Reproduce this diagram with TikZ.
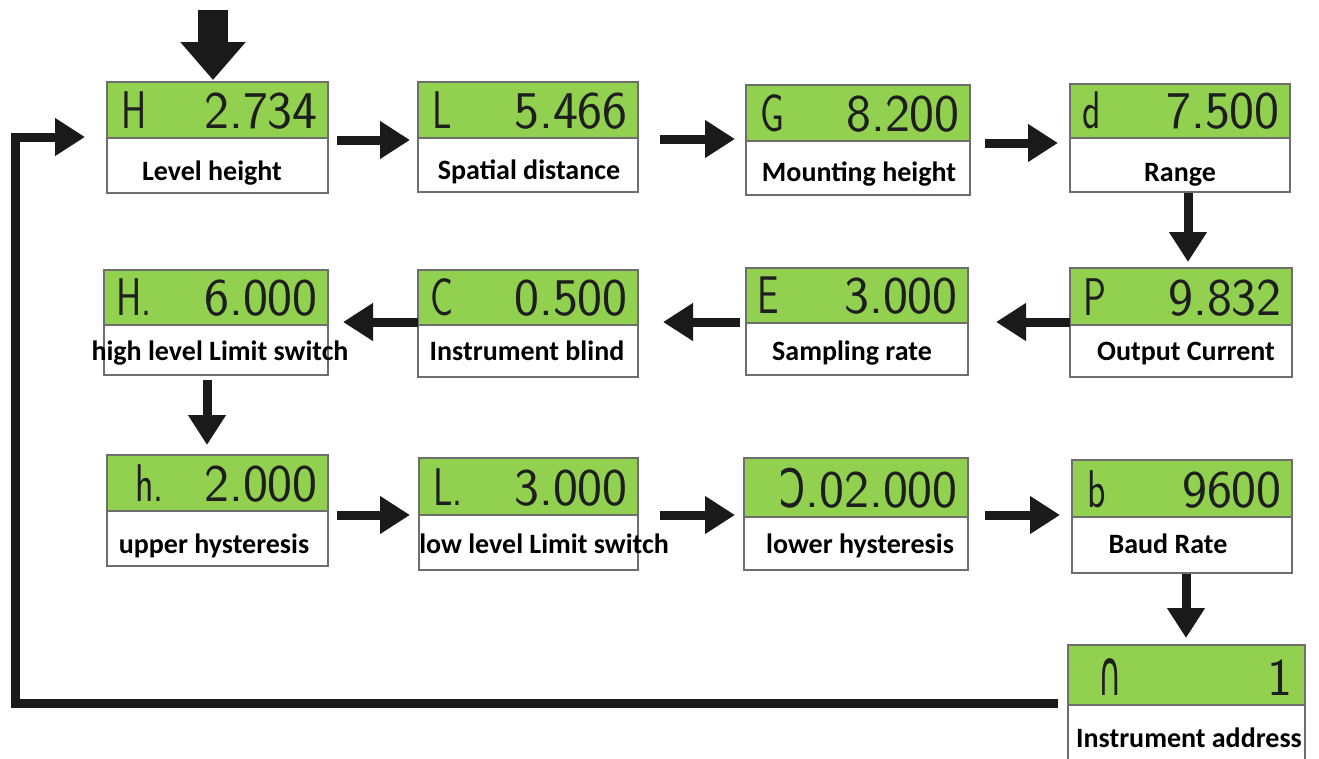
\documentclass[tikz,border=0pt]{standalone}
\usepackage{fontspec}
\usepackage{graphicx}
\usetikzlibrary{arrows.meta}
\newfontfamily\lblfont{Carlito}
\newfontfamily\symfont{DejaVu Sans}
\definecolor{lcdgreen}{HTML}{92D050}
\definecolor{boxgray}{HTML}{6E6E6E}
\definecolor{arrowblack}{HTML}{1A1A1A}
\definecolor{lcdink}{HTML}{1E1E1E}
\tikzset{
  greenbox/.style={draw=boxgray, line width=1.5pt, fill=lcdgreen, inner sep=0pt, outer sep=0pt},
  whitebox/.style={draw=boxgray, line width=1.5pt, fill=white, inner sep=0pt, outer sep=0pt},
  lcd/.style={font=\sffamily\fontsize{53}{53}\selectfont, text=lcdink, inner sep=0pt},
  lbl/.style={font=\lblfont\bfseries\fontsize{28}{28}\selectfont, text=black, inner sep=0pt, anchor=base},
  arr/.style={draw=arrowblack, line width=9pt, -{Triangle[length=30pt,width=36pt]}},
  bigarr/.style={draw=arrowblack, line width=30pt, -{Triangle[length=38pt,width=63pt]}},
}
% #1 id, #2 x1, #3 ytop, #4 ydiv, #5 x2, #6 ybot
\newcommand\lcdbox[6]{%
  \node[whitebox, anchor=north west, minimum width=#5-#2, minimum height=#6-#4] (w#1) at (#2,#4) {};
  \node[greenbox, anchor=north west, minimum width=#5-#2, minimum height=#4-#3] (g#1) at (#2,#3) {};
}
% #1 id, #2 letter, #3 letter x offset, #4 value
\newcommand\lcdtext[4]{%
  \node[lcd, anchor=base west] (l#1) at ([xshift=#3, yshift=10]g#1.south west) {\scalebox{0.72}[1]{#2}};
  \node[lcd, anchor=base east] (v#1) at ([xshift=-10, yshift=10]g#1.south east) {#4};
}
\begin{document}
\begin{tikzpicture}[x=1pt,y=-1pt]
\useasboundingbox (0,0) rectangle (1319,758);
% boxes
\lcdbox{1}{107}{82}{138}{328}{193}
\lcdbox{2}{418}{82}{138}{638}{192}
\lcdbox{3}{746}{85}{141}{970}{195}
\lcdbox{4}{1070}{84}{138}{1290}{192}
\lcdbox{5}{104}{270}{325}{328}{375}
\lcdbox{6}{418}{270}{325}{638}{377}
\lcdbox{7}{746}{268}{323}{968}{375}
\lcdbox{8}{1070}{268}{325}{1292}{377}
\lcdbox{9}{107}{455}{511}{328}{566}
\lcdbox{10}{419}{458}{515}{638}{570}
\lcdbox{11}{744}{458}{517}{968}{570}
\lcdbox{12}{1072}{460}{517}{1292}{573}
\lcdbox{13}{1068}{645}{705}{1305}{762}
% LCD readings
\lcdtext{1}{H}{14}{2.734}
\lcdtext{2}{L}{14}{5.466}
\lcdtext{3}{G}{14}{8.200}
\lcdtext{4}{d}{12}{7.500}
\lcdtext{5}{H.}{12}{6.000}
\lcdtext{6}{C}{12}{0.500}
\lcdtext{7}{E}{11}{3.000}
\lcdtext{8}{P}{13}{9.832}
\lcdtext{9}{h.}{28}{2.000}
\lcdtext{10}{L.}{14}{3.000}
\lcdtext{11}{}{12}{{\symfont\scalebox{0.7}[1]{Ↄ}}.02.000}
\lcdtext{12}{b}{15}{9600}
\node[lcd, anchor=base west] (l13) at ([xshift=30, yshift=10]g13.south west) {{\symfont\scalebox{0.6}[1.2]{∩}}};
\node[lcd, anchor=base east] (v13) at ([xshift=-12, yshift=10]g13.south east) {1};
% labels
\node[lbl] (t1) at (212,180) {Level height};
\node[lbl] (t2) at (529,179) {Spatial distance};
\node[lbl] (t3) at (859,181) {Mounting height};
\node[lbl] (t4) at (1180,181) {Range};
\node[lbl] (t5) at (220,360) {high level Limit switch};
\node[lbl] (t6) at (527,360) {Instrument blind};
\node[lbl] (t7) at (852,360) {Sampling rate};
\node[lbl] (t8) at (1186,360) {Output Current};
\node[lbl] (t9) at (214,553) {upper hysteresis};
\node[lbl] (t10) at (544,553) {low level Limit switch};
\node[lbl] (t11) at (860,553) {lower hysteresis};
\node[lbl] (t12) at (1168,553) {Baud Rate};
\node[lbl] (t13) at (1189,747) {Instrument address};
% entry arrow
\coordinate (in) at (213,10);
\draw[bigarr, shorten >=2pt] (in) -- (in |- g1.north);
% row 1
\draw[arr, shorten <=9pt, shorten >=8pt] ([yshift=-2]g1.south east) -- ([yshift=-2]g1.south east -| g2.west);
\draw[arr, shorten <=22pt, shorten >=11pt] ([yshift=-1]g2.south east) -- ([yshift=-1]g2.south east -| g3.west);
\draw[arr, shorten <=15pt, shorten >=12pt] ([yshift=-2]g3.south east) -- ([yshift=-2]g3.south east -| g4.west);
% down to row 2
\draw[arr, shorten <=1pt, shorten >=6pt] ([xshift=8]w4.south) -- ([xshift=8]w4.south |- g8.north);
% row 2 (leftwards)
\draw[arr, shorten >=28pt] ([yshift=3]g8.south west) -- ([yshift=3]g8.south west -| g7.east);
\draw[arr, shorten <=6pt, shorten >=25pt] ([yshift=1]g7.south west) -- ([yshift=1]g7.south west -| g6.east);
\draw[arr, shorten >=15pt] ([yshift=3]g6.south west) -- ([yshift=3]g6.south west -| g5.east);
% down to row 3
\draw[arr, shorten <=5pt, shorten >=10pt] ([xshift=-9]w5.south) -- ([xshift=-9]w5.south |- g9.north);
% row 3
\draw[arr, shorten <=9pt, shorten >=9pt] ([yshift=-4]g9.south east) -- ([yshift=-4]g9.south east -| g10.west);
\draw[arr, shorten <=22pt, shorten >=9pt] (g10.south east) -- (g10.south east -| g11.west);
\draw[arr, shorten <=17pt, shorten >=12pt] ([yshift=2]g11.south east) -- ([yshift=2]g11.south east -| g12.west);
% down to row 4
\draw[arr, shorten <=1pt, shorten >=7pt] ([xshift=4]w12.south) -- ([xshift=4]w12.south |- g13.north);
% feedback loop
\coordinate (c1) at (15,703);
\coordinate (c2) at (15,137);
\draw[arr, line join=miter, shorten <=10pt, shorten >=22pt] ([yshift=2]g13.south west) -- (c1) -- (c2) -- (c2 -| g1.west);
\end{tikzpicture}
\end{document}
